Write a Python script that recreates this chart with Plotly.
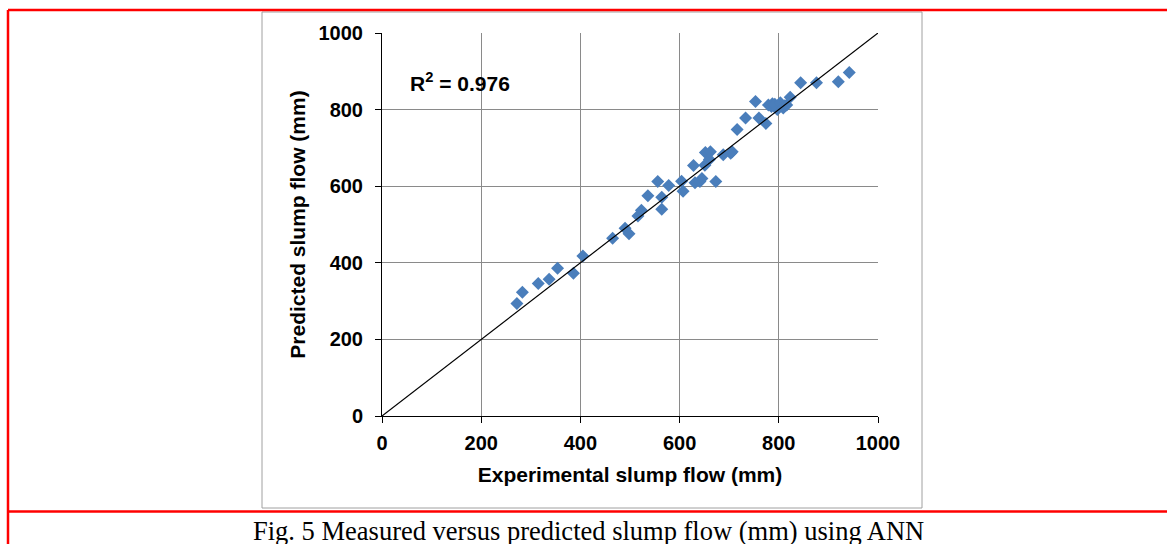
import plotly.graph_objects as go

# ---- data ----
experimental = [272, 283, 315, 337, 354, 386, 405, 465, 490, 498,
                516, 523, 536, 556, 564, 564, 578, 604, 607, 628,
                631, 641, 645, 651, 652, 662, 660, 673, 688, 703,
                706, 716, 733, 753, 760, 774, 779, 785, 787, 792,
                797, 803, 809, 812, 816, 823, 844, 876, 920, 942]
predicted = [294, 323, 346, 357, 386, 373, 418, 464, 490, 476,
             522, 537, 575, 612, 571, 540, 602, 613, 587, 654,
             609, 612, 620, 655, 688, 690, 670, 612, 682, 686,
             690, 748, 778, 821, 778, 764, 812, 808, 815, 814,
             800, 818, 804, 810, 812, 832, 870, 870, 873, 897]
line_xy = [0, 1000]
tick_vals = [0, 200, 400, 600, 800, 1000]
tick_text = ["0", "200", "400", "600", "800", "1000"]
r2_text = "R<sup>2</sup> = 0.976"
caption = "Fig. 5 Measured versus predicted slump flow (mm) using ANN"

W, H = 1167, 544
L, R, T, B = 382, 878, 33, 416  # plot area pixels

SANS = "Liberation Sans, Arial"
SERIF = "Liberation Serif, Times New Roman"


def pxx(p):
    return (p - L) / (R - L)


def pxy(p):
    return (B - p) / (B - T)


fig = go.Figure()
fig.add_trace(go.Scatter(
    x=experimental, y=predicted, mode="markers",
    marker=dict(symbol="diamond", size=10, color="#4A7EBB", line=dict(width=0)),
    showlegend=False, cliponaxis=False))
fig.add_trace(go.Scatter(
    x=line_xy, y=line_xy, mode="lines",
    line=dict(color="black", width=1.2), showlegend=False))

axis_common = dict(
    range=[0, 1000], tickvals=tick_vals, ticktext=tick_text,
    showgrid=True, gridcolor="#8A8A8A", gridwidth=1,
    zeroline=False, showline=True, linecolor="black", linewidth=1,
    ticks="outside", ticklen=6, tickcolor="black", tickwidth=1,
    tickfont=dict(family=SANS, size=20, color="black", weight="bold"),
)

fig.update_xaxes(**axis_common, ticklabelstandoff=3,
                 title=dict(text="<b>Experimental slump flow (mm)</b>",
                            font=dict(family=SANS, size=21, color="black"),
                            standoff=14))
fig.update_yaxes(**axis_common, ticklabelstandoff=8,
                 title=dict(text="<b>Predicted slump flow (mm)</b>",
                            font=dict(family=SANS, size=21, color="black"),
                            standoff=7))

shapes = [
    # grey chart frame
    dict(type="rect", xref="paper", yref="paper",
         x0=pxx(262), x1=pxx(922), y0=pxy(508), y1=pxy(12),
         line=dict(color="#A0A0A0", width=1), layer="below"),
    # red table borders
    dict(type="line", xref="paper", yref="paper",
         x0=pxx(8), x1=pxx(1175), y0=pxy(10), y1=pxy(10),
         line=dict(color="#FF0000", width=2.5)),
    dict(type="line", xref="paper", yref="paper",
         x0=pxx(8), x1=pxx(8), y0=pxy(10), y1=pxy(560),
         line=dict(color="#FF0000", width=2.5)),
    dict(type="line", xref="paper", yref="paper",
         x0=pxx(8), x1=pxx(1175), y0=pxy(511.5), y1=pxy(511.5),
         line=dict(color="#FF0000", width=2.5)),
]

annotations = [
    dict(x=52, y=872, xref="x", yref="y", text="<b>" + r2_text + "</b>",
         showarrow=False, xanchor="left", yanchor="middle",
         font=dict(family=SANS, size=21, color="black")),
    dict(x=pxx(588), y=pxy(531), xref="paper", yref="paper", text=caption,
         showarrow=False, xanchor="center", yanchor="middle",
         font=dict(family=SERIF, size=26.5, color="black")),
]

fig.update_layout(
    width=W, height=H,
    margin=dict(l=L, r=W - R, t=T, b=H - B, pad=0),
    paper_bgcolor="white", plot_bgcolor="white",
    shapes=shapes, annotations=annotations,
    showlegend=False,
)

fig.write_html(
    "out.html",
    config={"displayModeBar": False},
    post_script="document.body.style.margin='0';document.body.style.overflow='hidden';",
)
